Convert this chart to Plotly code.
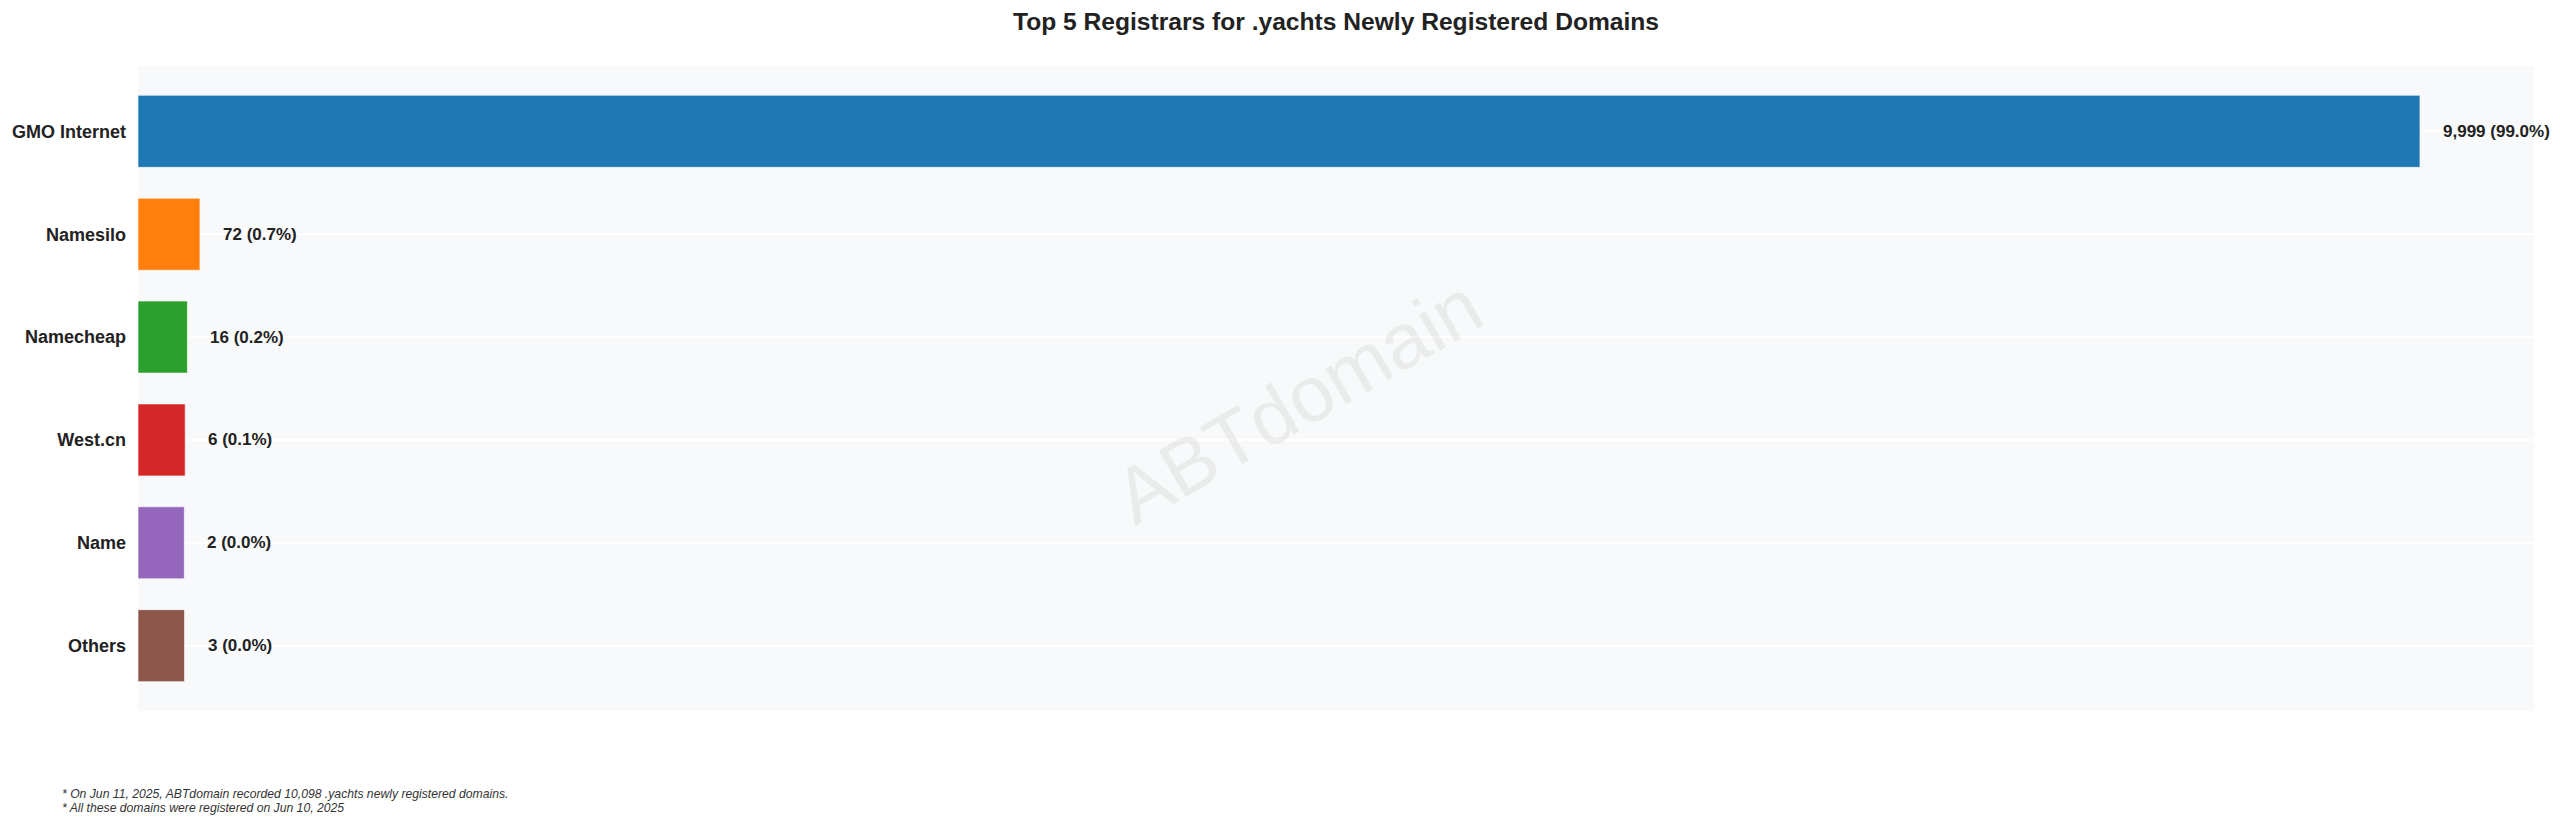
import plotly.graph_objects as go

registrars = ["GMO Internet", "Namesilo", "Namecheap", "West.cn", "Name", "Others"]
counts = [9999, 72, 16, 6, 2, 3]
percents = [99.0, 0.7, 0.2, 0.1, 0.0, 0.0]
colors = ["#1f77b4", "#ff7f0e", "#2ca02c", "#d62728", "#9467bd", "#8c564b"]

title_text = "Top 5 Registrars for .yachts Newly Registered Domains"
footnotes = [
    "* On Jun 11, 2025, ABTdomain recorded 10,098 .yachts newly registered domains.",
    "* All these domains were registered on Jun 10, 2025",
]
watermark = "ABTdomain"

# visual minimum-length pad so tiny bars stay visible (bars end at true value)
PAD = 205
FONT = "Liberation Sans, Arial, sans-serif"

fig = go.Figure()
fig.add_trace(go.Bar(
    y=registrars,
    x=[c + PAD for c in counts],
    base=[-PAD] * len(counts),
    orientation="h",
    width=0.7,
    marker=dict(color=colors, line=dict(color="rgba(255,255,255,0.6)", width=1)),
    hoverinfo="skip",
    showlegend=False,
))

annotations = []
for name, c, p in zip(registrars, counts, percents):
    annotations.append(dict(
        x=c, y=name, xref="x", yref="y",
        text=f"<b>{c:,} ({p:.1f}%)</b>",
        showarrow=False, xanchor="left", yanchor="middle", xshift=21,
        font=dict(family=FONT, size=17, color="#222222"),
    ))

annotations.append(dict(
    x=0.4841, y=0.481, xref="paper", yref="paper",
    text=watermark, showarrow=False, textangle=-30,
    xanchor="center", yanchor="middle",
    font=dict(family=FONT, size=78, color="rgba(160,160,160,0.16)"),
))

for i, line in enumerate(footnotes):
    annotations.append(dict(
        x=(60 - 138) / 2396, y=(711 - (794 + 14 * i)) / 645,
        xref="paper", yref="paper",
        text=f"<i>{line}</i>", showarrow=False,
        xanchor="left", yanchor="middle",
        font=dict(family=FONT, size=12.2, color="#333333"),
    ))

fig.update_layout(
    width=2560, height=837,
    margin=dict(l=138, r=26, t=66, b=126),
    paper_bgcolor="white",
    plot_bgcolor="#f8f9fa",
    title=dict(
        text=f"<b>{title_text}</b>",
        x=(1336) / 2560, xanchor="center",
        y=1 - 21 / 837, yanchor="middle",
        font=dict(family=FONT, size=24.6, color="#222222"),
    ),
    xaxis=dict(
        range=[-PAD, 10509], showgrid=False, zeroline=False,
        showticklabels=False, ticks="", showline=False, fixedrange=True,
    ),
    yaxis=dict(
        type="category", categoryorder="array", categoryarray=registrars,
        range=[5.635, -0.635],
        showgrid=True, gridcolor="white", gridwidth=1.5,
        zeroline=False, showline=False, ticks="",
        ticklabelstandoff=11, fixedrange=True,
        tickfont=dict(family=FONT, size=18, color="#222222", weight="bold"),
    ),
    annotations=annotations,
    font=dict(family=FONT),
)

fig.write_html(
    "out.html",
    config={"displayModeBar": False},
    post_script="document.body.style.margin='0';document.body.style.overflow='hidden';",
)
